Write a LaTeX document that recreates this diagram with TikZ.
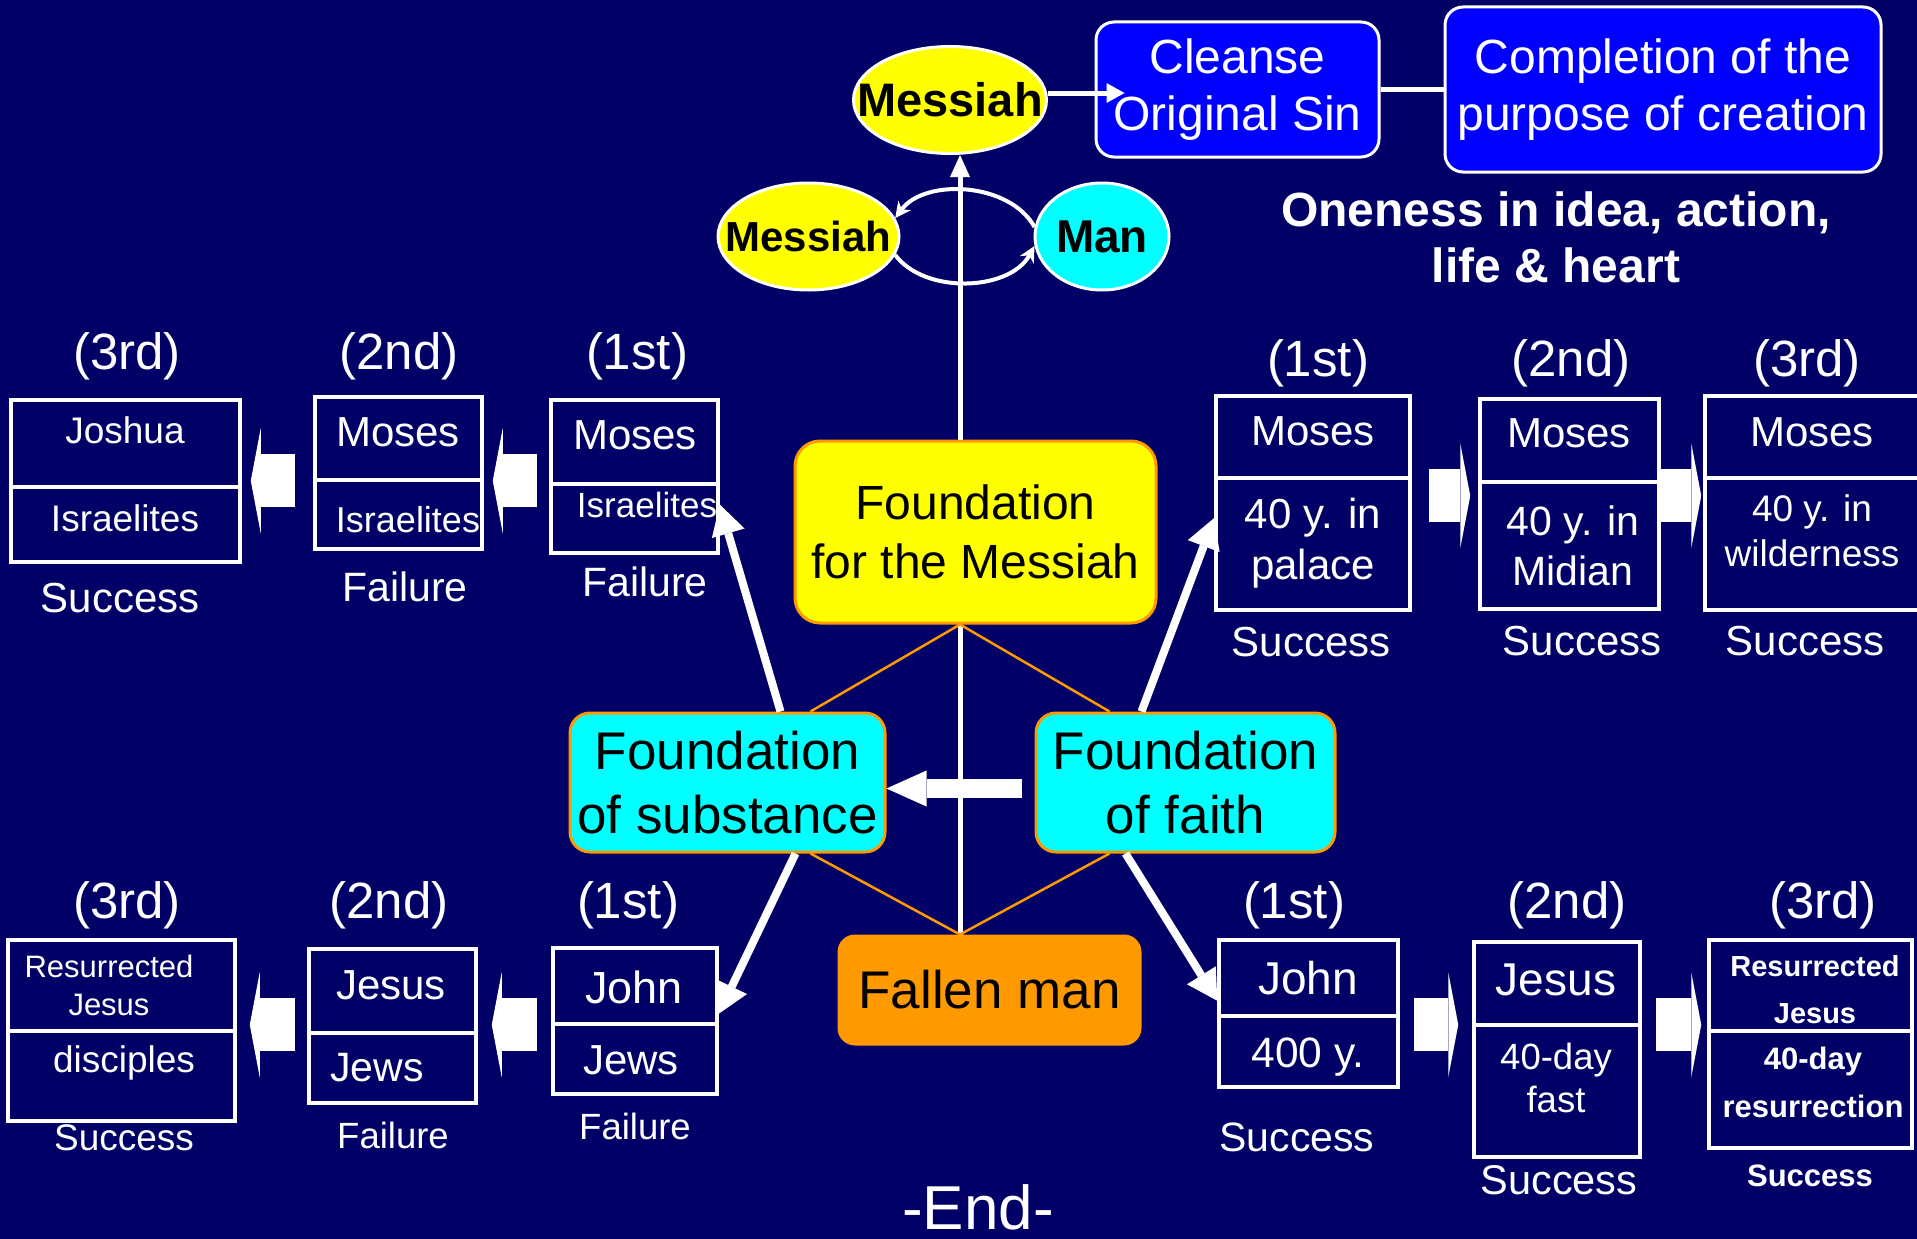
\documentclass[tikz,border=0pt]{standalone}
\usepackage{fontspec}
\setmainfont{Liberation Sans}
\usepackage{tikz}
\usetikzlibrary{arrows.meta, shapes.geometric}
\definecolor{navyc}{RGB}{0,0,102}
\definecolor{bluec}{RGB}{0,0,255}
\definecolor{yellowc}{RGB}{255,255,0}
\definecolor{cyanc}{RGB}{0,255,255}
\definecolor{orangec}{RGB}{255,153,0}
\newcommand{\fsz}[2]{\fontsize{#1}{#2}\selectfont}

\begin{document}
\begin{tikzpicture}[
  x=1pt, y=1pt,
  oval/.style={ellipse, draw=white, line width=3pt, inner sep=0pt},
  fbox/.style={draw=orangec, line width=3pt, rounded corners=20pt, align=center, inner sep=0pt},
  bluebox/.style={draw=white, fill=bluec, line width=3pt, rounded corners=18pt, align=center, inner sep=0pt, text=white, font=\fsz{48}{57}},
  cell/.style={draw=white, line width=3.5pt, inner sep=0pt},
  ctxt/.style={text=white, inner sep=0pt, align=center},
  ord/.style={text=white, inner sep=0pt, font=\fsz{51}{60}},
  wline/.style={draw=white, line width=5pt},
  oline/.style={draw=orangec, line width=2.5pt},
  barrow/.style={draw=white, line width=53pt, -{Triangle[length=10pt, width=105pt, line width=0pt]}},
  bigarr/.style={draw=white, line width=8pt, -{Triangle[length=30pt, width=34pt, line width=0pt]}},
  loopline/.style={draw=white, line width=4pt, -{Stealth[length=16pt, width=16pt, line width=0pt]}}
]
\fill[navyc] (0,0) rectangle (1917,-1239);
\useasboundingbox (0,0) rectangle (1917,-1239);

\node[oval, fill=yellowc, minimum width=193pt, minimum height=107pt, font=\bfseries\fsz{47}{56}] (mes) at (950,-100) {\makebox[0pt]{Messiah}};
\node[bluebox, minimum width=283pt, minimum height=135pt] (cleanse) at (1237.5,-89.5) {Cleanse\\Original Sin};
\node[bluebox, minimum width=436pt, minimum height=165pt] (complete) at (1663,-89.5) {Completion of the\\purpose of creation};
\node[ctxt, font=\bfseries\fsz{48}{56}] (oneness) at (1556,-237.5) {Oneness in idea, action,\\life \& heart};
\node[oval, fill=yellowc, minimum width=181pt, minimum height=107pt, font=\bfseries\fsz{42}{50}] (mes2) at (808.5,-236.5) {\makebox[0pt]{Messiah}};
\node[oval, fill=cyanc, minimum width=134pt, minimum height=107pt, font=\bfseries\fsz{46}{54}] (man) at (1102,-236.5) {\makebox[0pt]{Man}};

\node[fbox, fill=yellowc, minimum width=361pt, minimum height=182pt, rounded corners=25pt, font=\fsz{48}{59}] (fmes) at (975.5,-532) {Foundation\\for the Messiah};
\node[fbox, fill=cyanc, minimum width=315pt, minimum height=139pt, font=\fsz{53}{64}] (subst) at (727.5,-782.5) {Foundation\\of substance};
\node[fbox, fill=cyanc, minimum width=299pt, minimum height=139pt, font=\fsz{53}{64}] (faith) at (1185.5,-782.5) {Foundation\\of faith};
\node[fbox, fill=orangec, minimum width=301pt, minimum height=108pt, rounded corners=16pt, font=\fsz{53}{64}] (fallen) at (989.5,-990) {Fallen man};

\node[ord] (ul3n) at (127,-356) {(3rd)};
\node[ord] (ul2n) at (399,-356) {(2nd)};
\node[ord] (ul1n) at (637,-356) {(1st)};
\node[cell, minimum width=229pt, minimum height=87pt] (ul3t) at (125.5,-443.5) {};
\node[cell, minimum width=229pt, minimum height=75pt] (ul3b) at (125.5,-524.5) {};
\node[ctxt, font=\fsz{37}{45}] (ul3x) at (125,-430) {Joshua};
\node[ctxt, font=\fsz{37}{45}] (ul3y) at (125,-518.5) {Israelites};
\node[ctxt, font=\fsz{42}{50}] (ul3r) at (120,-598) {Success};
\node[cell, minimum width=167pt, minimum height=83pt] (ul2t) at (398.5,-438.5) {};
\node[cell, minimum width=167pt, minimum height=69pt] (ul2b) at (398.5,-514.5) {};
\node[ctxt, font=\fsz{42}{50}] (ul2x) at (398,-432.6) {Moses};
\node[ctxt, font=\fsz{36}{44}] (ul2y) at (408,-520) {Israelites};
\node[ctxt, font=\fsz{41}{50}] (ul2r) at (405,-587) {Failure};
\node[cell, minimum width=167pt, minimum height=84pt] (ul1t) at (634.5,-442) {};
\node[cell, minimum width=167pt, minimum height=69pt] (ul1b) at (634.5,-518.5) {};
\node[ctxt, font=\fsz{42}{50}] (ul1x) at (635,-435) {Moses};
\node[ctxt, font=\fsz{35}{44}] (ul1y) at (647,-505) {Israelites};
\node[ctxt, font=\fsz{41}{50}] (ul1r) at (645,-582) {Failure};

\node[ord] (ur1n) at (1318,-363) {(1st)};
\node[ord] (ur2n) at (1571,-363) {(2nd)};
\node[ord] (ur3n) at (1807,-363) {(3rd)};
\node[cell, minimum width=194pt, minimum height=82pt] (ur1t) at (1313,-437) {};
\node[cell, minimum width=194pt, minimum height=132pt] (ur1b) at (1313,-544) {};
\node[ctxt, font=\fsz{42}{50}] (ur1x) at (1313,-431.7) {Moses};
\node[ctxt, font=\fsz{42}{51}] (ur1y) at (1313,-543.5) {40 y. in\\palace};
\node[ctxt, font=\fsz{42}{50}] (ur1r) at (1311,-641.7) {Success};
\node[cell, minimum width=179pt, minimum height=83pt] (ur2t) at (1569.5,-440.5) {};
\node[cell, minimum width=179pt, minimum height=127pt] (ur2b) at (1569.5,-545.5) {};
\node[ctxt, font=\fsz{42}{50}] (ur2x) at (1569,-433) {Moses};
\node[ctxt, font=\fsz{41}{50}] (ur2y) at (1573,-546) {40 y. in\\Midian};
\node[ctxt, font=\fsz{42}{50}] (ur2r) at (1582,-641) {Success};
\node[cell, minimum width=230pt, minimum height=82pt] (ur3t) at (1820,-437) {};
\node[cell, minimum width=230pt, minimum height=132pt] (ur3b) at (1820,-544) {};
\node[ctxt, font=\fsz{42}{50}] (ur3x) at (1812,-432) {Moses};
\node[ctxt, font=\fsz{37}{45}] (ur3y) at (1812,-531) {40 y. in\\wilderness};
\node[ctxt, font=\fsz{42}{50}] (ur3r) at (1805,-641) {Success};

\node[ord] (ll3n) at (127,-905) {(3rd)};
\node[ord] (ll2n) at (389,-905) {(2nd)};
\node[ord] (ll1n) at (628,-905) {(1st)};
\node[cell, minimum width=227pt, minimum height=91pt] (ll3t) at (121.5,-985.5) {};
\node[cell, minimum width=227pt, minimum height=90pt] (ll3b) at (121.5,-1076) {};
\node[ctxt, font=\fsz{31}{38}] (ll3x) at (109,-985.7) {Resurrected\\Jesus};
\node[ctxt, font=\fsz{37}{45}] (ll3y) at (124,-1063) {disciples};
\node[ctxt, font=\fsz{37}{45}] (ll3r) at (124,-1138) {Success};
\node[cell, minimum width=167pt, minimum height=84pt] (ll2t) at (392.5,-991) {};
\node[cell, minimum width=167pt, minimum height=70pt] (ll2b) at (392.5,-1068) {};
\node[ctxt, font=\fsz{42}{50}] (ll2x) at (391,-985) {Jesus};
\node[ctxt, font=\fsz{41}{50}] (ll2y) at (377,-1068) {Jews};
\node[ctxt, font=\fsz{36.5}{44}] (ll2r) at (393,-1135) {Failure};
\node[cell, minimum width=164pt, minimum height=76pt] (ll1t) at (635,-986) {};
\node[cell, minimum width=164pt, minimum height=70pt] (ll1b) at (635,-1059) {};
\node[ctxt, font=\fsz{45}{54}] (ll1x) at (634,-987) {John};
\node[ctxt, font=\fsz{42}{50}] (ll1y) at (631,-1060) {Jews};
\node[ctxt, font=\fsz{36.5}{44}] (ll1r) at (635,-1126) {Failure};

\node[ord] (lr1n) at (1294,-905) {(1st)};
\node[ord] (lr2n) at (1567,-905) {(2nd)};
\node[ord] (lr3n) at (1823,-905) {(3rd)};
\node[cell, minimum width=179pt, minimum height=76pt] (lr1t) at (1308.5,-978) {};
\node[cell, minimum width=179pt, minimum height=71pt] (lr1b) at (1308.5,-1051.5) {};
\node[ctxt, font=\fsz{46}{54}] (lr1x) at (1308,-978) {John};
\node[ctxt, font=\fsz{42.5}{50}] (lr1y) at (1308,-1057) {400 y.};
\node[ctxt, font=\fsz{41}{50}] (lr1r) at (1297,-1137) {Success};
\node[cell, minimum width=166pt, minimum height=83pt] (lr2t) at (1557,-983.5) {};
\node[cell, minimum width=166pt, minimum height=132pt] (lr2b) at (1557,-1091) {};
\node[ctxt, font=\fsz{46}{54}] (lr2x) at (1556,-980) {Jesus};
\node[ctxt, font=\fsz{36.5}{43}] (lr2y) at (1556,-1078) {40-day\\fast};
\node[ctxt, font=\fsz{41.5}{50}] (lr2r) at (1559,-1180) {Success};
\node[cell, minimum width=203pt, minimum height=91pt] (lr3t) at (1810.5,-985.5) {};
\node[cell, minimum width=203pt, minimum height=117pt] (lr3b) at (1810.5,-1089.5) {};
\node[ctxt, font=\bfseries\fsz{29}{47}] (lr3x) at (1815,-990) {Resurrected\\Jesus};
\node[ctxt, font=\bfseries\fsz{31}{48}] (lr3y) at (1813,-1082.7) {40-day\\resurrection};
\node[ctxt, font=\bfseries\fsz{31}{38}] (lr3r) at (1810,-1176) {Success};

\node[ctxt, font=\fsz{62}{70}] (theend) at (978,-1207) {-End-};

\coordinate (axis) at (960,0);
\draw[wline, -{Triangle[length=22pt, width=20pt, line width=0pt]}] (axis |- fmes.north) -- (axis |- mes.south);
\draw[wline] (axis |- fallen.north) -- (axis |- fmes.south);
\draw[oline] (axis |- fmes.south) -- ([xshift=83pt]subst.north);
\draw[oline] (axis |- fmes.south) -- ([xshift=-76pt]faith.north);
\draw[oline] (axis |- fallen.north) -- ([xshift=83pt]subst.south);
\draw[oline] (axis |- fallen.north) -- ([xshift=-76pt]faith.south);
\draw[wline, -{Triangle[length=18pt, width=20pt, line width=0pt]}] ([yshift=7pt]mes.east) -- ([xshift=30pt, yshift=7pt]mes.east -| cleanse.west);
\draw[wline] (cleanse.east) -- (complete.west);
\draw[loopline] (man.172) .. controls +(-25,45) and +(30,40) .. (mes2.12);
\draw[loopline] (mes2.-12) .. controls +(30,-40) and +(-25,-45) .. (man.-172);

\draw[draw=white, line width=19pt, -{Triangle[length=40pt, width=36pt, line width=0pt]}, shorten <=13pt] ([yshift=-6pt]faith.west) -- ([yshift=-6pt]faith.west -| subst.east);
\draw[bigarr] ([xshift=53pt]subst.north) -- ([yshift=14pt]ul1b.east);
\draw[bigarr] ([xshift=-44pt]faith.north) -- ([yshift=26pt]ur1b.west);
\draw[bigarr] ([xshift=68pt]subst.south) -- ([yshift=12pt]ll1t.south east);
\draw[bigarr] ([xshift=-60pt]faith.south) -- ([yshift=17pt]lr1t.south west);

\draw[barrow, shorten <=12pt, shorten >=9pt] ([yshift=5pt]ul1t.south west) -- ([yshift=5pt]ul1t.south west -| ul2t.east);
\draw[barrow, shorten <=18pt, shorten >=9pt] ([yshift=1pt]ul2t.south west) -- ([yshift=1pt]ul2t.south west -| ul3t.east);
\draw[barrow, shorten <=17pt, shorten >=8pt] ([yshift=-16pt]ur1t.south east) -- ([yshift=-16pt]ur1t.south east -| ur2t.west);
\draw[barrow, shorten >=2pt] ([yshift=-12pt]ur2t.south east) -- ([yshift=-12pt]ur2t.south east -| ur3t.west);
\draw[barrow, shorten <=14pt, shorten >=14pt] ([yshift=1pt]ll1t.south west) -- ([yshift=1pt]ll1t.south west -| ll2t.east);
\draw[barrow, shorten <=12pt, shorten >=13pt] ([yshift=10pt]ll2t.south west) -- ([yshift=10pt]ll2t.south west -| ll3t.east);
\draw[barrow, shorten <=14pt, shorten >=14pt] ([yshift=-7pt]lr1t.south east) -- ([yshift=-7pt]lr1t.south east -| lr2t.west);
\draw[barrow, shorten <=14pt, shorten >=6pt] ([yshift=2pt]lr2t.south east) -- ([yshift=2pt]lr2t.south east -| lr3t.west);
\end{tikzpicture}
\end{document}
